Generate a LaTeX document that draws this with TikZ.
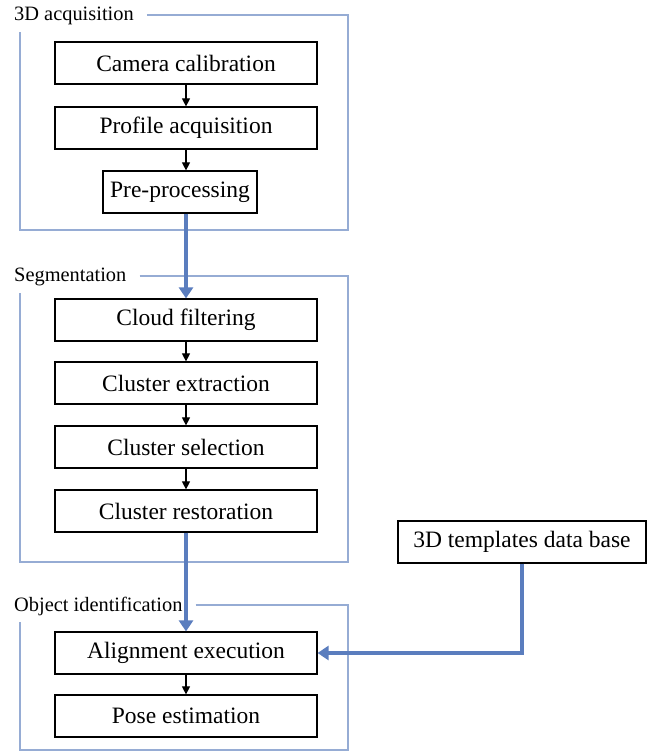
\documentclass[tikz,border=0pt]{standalone}
\usepackage{fontspec}
\setmainfont{Liberation Serif}
\usetikzlibrary{arrows.meta}

\definecolor{framegray}{RGB}{150,172,212}
\definecolor{flowblue}{RGB}{90,125,190}

\begin{document}
\begin{tikzpicture}[x=1pt, y=-1pt,
    stepbox/.style={draw, line width=1.2pt, minimum height=42pt, inner sep=0pt,
      font=\fontsize{23.5}{26}\selectfont},
    grouptitle/.style={anchor=west, inner sep=0pt, font=\fontsize{20.4}{23}\selectfont},
    frame/.style={draw=framegray, line width=1.4pt},
    smallarrow/.style={-{Triangle[width=8pt, length=8pt]}, line width=1.1pt},
    flowarrow/.style={-{Triangle[width=14pt, length=11pt]}, draw=flowblue, line width=3.2pt}]

  \useasboundingbox (0,0) rectangle (655,753);

  % Group frames, each with its title on the top border
  \foreach \name/\txt/\ytop/\ybot in {acq/3D acquisition/15/230,
      seg/Segmentation/276/562, obj/Object identification/605/750} {
    \node[grouptitle] (\name) at (14,\ytop+1) {\txt};
    \draw[frame] ([xshift=13pt]\name.east |- 0,\ytop) -- (348,\ytop) -- (348,\ybot)
      -- (20,\ybot) -- (20,\ytop+17);
  }

  % 3D acquisition
  \node[stepbox, minimum width=262pt] (cam) at (186,63) {Camera calibration};
  \node[stepbox, minimum width=262pt] (prof) at (186,128) {Profile acquisition};
  \node[stepbox, minimum width=154pt] (pre) at (180,192) {Pre-processing};

  % Segmentation
  \node[stepbox, minimum width=262pt] (filt) at (186,320) {Cloud filtering};
  \node[stepbox, minimum width=262pt] (extr) at (186,383) {Cluster extraction};
  \node[stepbox, minimum width=262pt] (sel) at (186,447) {Cluster selection};
  \node[stepbox, minimum width=262pt] (rest) at (186,511) {Cluster restoration};

  % Object identification
  \node[stepbox, minimum width=262pt] (align) at (186,653) {Alignment execution};
  \node[stepbox, minimum width=262pt] (pose) at (186,716) {Pose estimation};

  \node[stepbox, minimum width=248pt] (tdb) at (522,542) {3D templates data base};

  % arrows inside the groups
  \foreach \a/\b in {cam/prof, filt/extr, extr/sel, sel/rest, align/pose}
    \draw[smallarrow] (\a.south) -- (\b.north);
  \draw[smallarrow] (prof.south) -- (prof.south |- pre.north);

  % arrows between the groups
  \draw[flowarrow] (pre.south -| filt.north) -- (filt.north);
  \draw[flowarrow] (rest.south) -- (align.north);
  \draw[flowarrow] (tdb.south) |- (align.east);

\end{tikzpicture}
\end{document}
